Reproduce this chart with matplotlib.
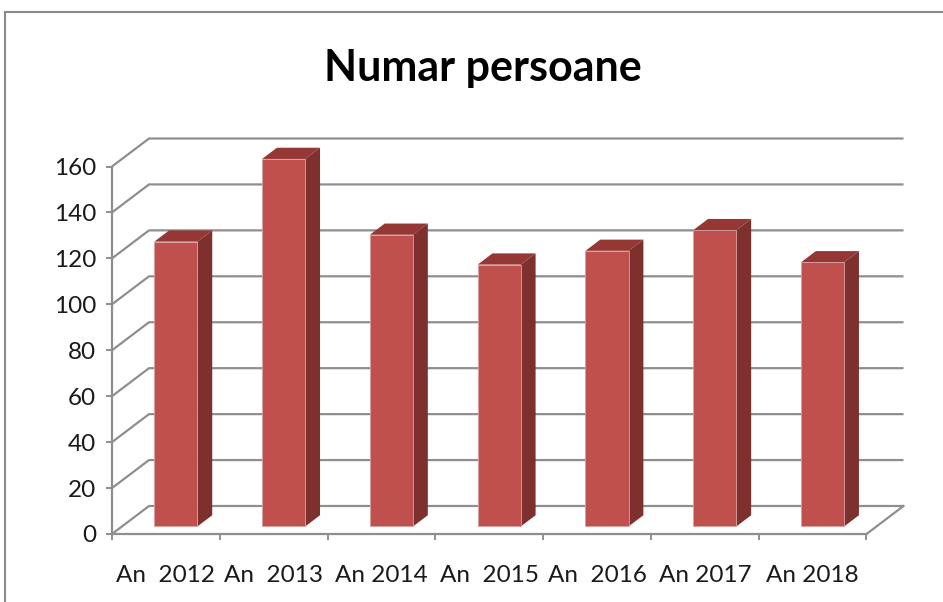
import matplotlib
matplotlib.use("Agg")
import matplotlib.pyplot as plt
from matplotlib.patches import Polygon, Rectangle

# ---- data ----
categories = ["An  2012", "An  2013", "An 2014", "An  2015", "An  2016", "An 2017", "An 2018"]
values = [124, 160, 127, 114, 120, 129, 115]
yticks = [0, 20, 40, 60, 80, 100, 120, 140, 160]
title = "Numar persoane"

# ---- style ----
W, H = 943, 602
DPI = 100
FONT = "Lato"
front_col = "#C0504D"
top_col = "#953735"
side_col = "#7E302E"
grid_col = "#8E8E8E"

fig = plt.figure(figsize=(W / DPI, H / DPI), dpi=DPI)
fig.patch.set_facecolor("white")

# chart border
fig.add_artist(Rectangle((5 / W, -0.1), 1.2, (H - 12) / H + 0.1, transform=fig.transFigure,
                         fill=False, edgecolor="#8a8a8a", linewidth=1.5))

# front plane of the 3D plot area (pixel positions)
x_left, x_right = 112, 866.5
y_zero, y_top = 534, 166.5
ax = fig.add_axes([x_left / W, (H - y_zero) / H, (x_right - x_left) / W, (y_zero - y_top) / H])
n = len(categories)
ax.set_xlim(-0.5, n - 0.5)
ax.set_ylim(0, 160)
ax.patch.set_visible(False)

# depth vector in data units
px_per_cat = (x_right - x_left) / n
px_per_val = (y_zero - y_top) / 160
DX = 37 / px_per_cat
DY = 28 / px_per_val

# back wall grid lines (with left side-wall diagonal)
for v in yticks:
    ax.plot([-0.5, -0.5 + DX, n - 0.5 + DX], [v, v + DY, v + DY],
            color=grid_col, lw=1.6, clip_on=False, zorder=1, solid_capstyle="butt")
# floor right edge
ax.plot([n - 0.5, n - 0.5 + DX], [0, DY], color=grid_col, lw=1.6, clip_on=False, zorder=1)

# bars (oblique 3D)
bw = 0.40
f0 = 0.27  # depth fraction of front face
fd = 0.40  # bar depth fraction
for i, v in enumerate(values):
    x0 = i - bw / 2 + f0 * DX
    y0 = f0 * DY
    ddx, ddy = fd * DX, fd * DY
    side = Polygon([(x0 + bw, y0), (x0 + bw + ddx, y0 + ddy), (x0 + bw + ddx, y0 + ddy + v), (x0 + bw, y0 + v)],
                   closed=True, facecolor=side_col, edgecolor="none", clip_on=False, zorder=3)
    top = Polygon([(x0, y0 + v), (x0 + ddx, y0 + ddy + v), (x0 + bw + ddx, y0 + ddy + v), (x0 + bw, y0 + v)],
                  closed=True, facecolor=top_col, edgecolor="none", clip_on=False, zorder=3)
    ax.add_patch(side)
    ax.add_patch(top)
    ax.bar(x0 + bw / 2, v, width=bw, bottom=y0, color=front_col, edgecolor="#D8A0A0",
           linewidth=0.6, zorder=4, clip_on=False)

# axes spines / ticks
for s in ["top", "right"]:
    ax.spines[s].set_visible(False)
for s in ["left", "bottom"]:
    ax.spines[s].set_color(grid_col)
    ax.spines[s].set_linewidth(1.6)
    ax.spines[s].set_zorder(5)

ax.set_yticks(yticks)
ax.set_yticklabels([str(t) for t in yticks], fontfamily=FONT, fontsize=17.5, color="#1a1a1a")
ax.tick_params(axis="y", direction="out", length=4.5, width=1.4, color=grid_col, pad=7)

ax.set_xticks([i - 0.5 for i in range(n + 1)])
ax.set_xticklabels([])
ax.tick_params(axis="x", which="major", direction="out", length=4.5, width=1.4, color=grid_col)
ax.set_xticks(list(range(n)), minor=True)
ax.set_xticklabels(categories, minor=True, fontfamily=FONT, fontsize=17.5, color="#1a1a1a")
ax.tick_params(axis="x", which="minor", length=0, pad=22)

fig.text(483 / W, 1 - 68 / H, title, ha="center", va="center", fontfamily=FONT,
         fontweight="bold", fontsize=31, color="black")

fig.savefig("out.png", dpi=DPI)
